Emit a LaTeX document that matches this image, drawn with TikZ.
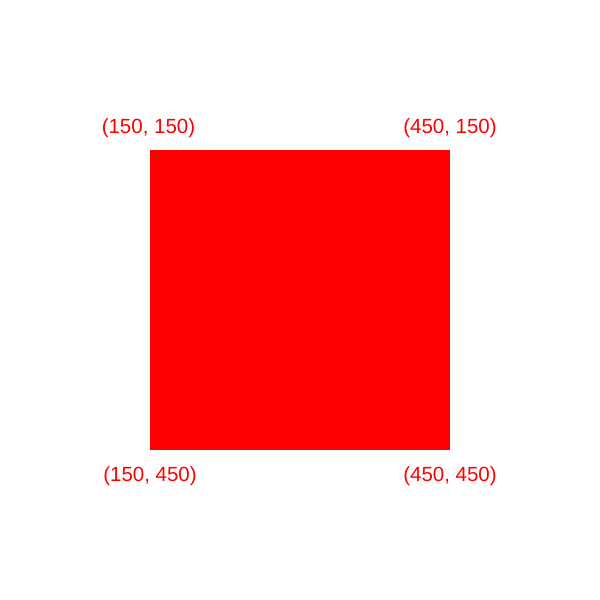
\documentclass[tikz,border=0pt]{standalone}
\usepackage{fontspec}
\setmainfont{Liberation Sans}
\usetikzlibrary{positioning}

\begin{document}
\begin{tikzpicture}[
    x=1pt, y=-1pt,
    sqr/.style={fill=red, minimum size=300pt, inner sep=0pt, outer sep=0pt},
    lbl/.style={text=red, font=\fontsize{20.5}{23}\selectfont, inner sep=0pt}
]
\useasboundingbox (0,0) rectangle (600,600);
\node[sqr] (sq) at (300,300) {};
\node[lbl] (tl) at (148.5,128) {(150, 150)};
\node[lbl] (tr) at (450,128) {(450, 150)};
\node[lbl] (bl) at (150,476) {(150, 450)};
\node[lbl] (br) at (450,476) {(450, 450)};
\end{tikzpicture}
\end{document}
